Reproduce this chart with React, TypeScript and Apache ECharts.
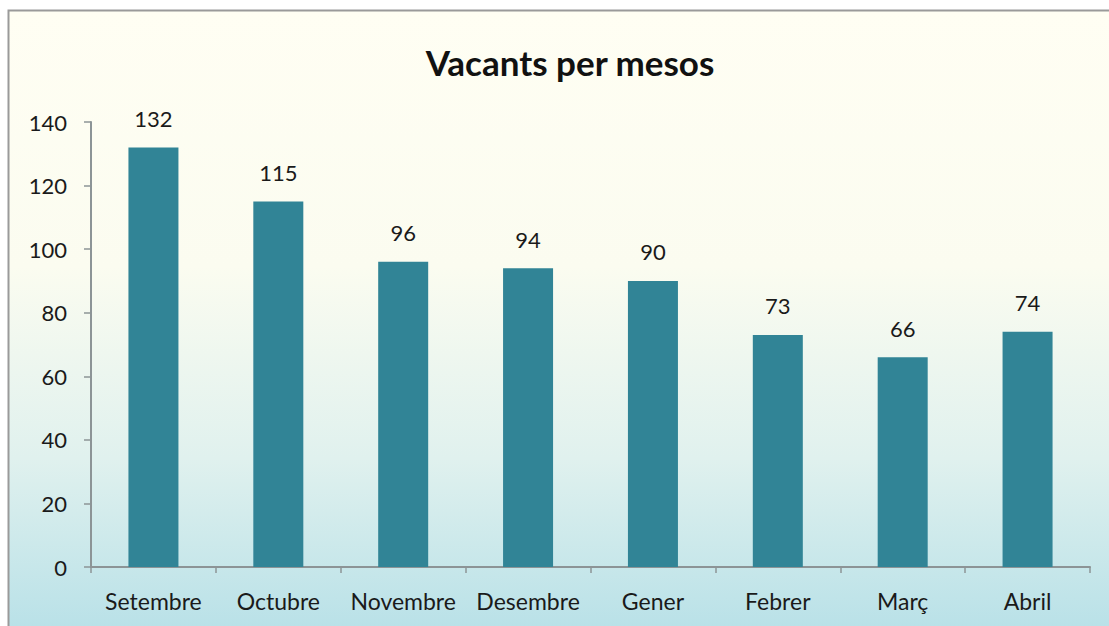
import React, { useEffect, useRef } from "react";
import * as echarts from "echarts";

const categories = ["Setembre", "Octubre", "Novembre", "Desembre", "Gener", "Febrer", "Març", "Abril"];
const values = [132, 115, 96, 94, 90, 73, 66, 74];
const yTicks = { min: 0, max: 140, interval: 20 };
const titleText = "Vacants per mesos";

export default function App() {
  const ref = useRef<HTMLDivElement>(null);
  useEffect(() => {
    const chart = echarts.init(ref.current!, null, { renderer: "svg" });
    const font = "Lato, 'Open Sans', sans-serif";
    chart.setOption({
      animation: false,
      backgroundColor: "#ffffff",
      graphic: [
        {
          type: "rect",
          z: -10,
          silent: true,
          shape: { x: 8.5, y: 10.5, width: 1130, height: 640 },
          style: {
            fill: new echarts.graphic.LinearGradient(0, 0, 0, 1, [
              { offset: 0, color: "#fffef3" },
              { offset: 0.4, color: "#fbfcf0" },
              { offset: 0.7, color: "#e0f1ee" },
              { offset: 1, color: "#b4dfe7" },
            ]),
            stroke: "#9a9a9a",
            lineWidth: 2,
          },
        },
      ],
      title: {
        text: titleText,
        left: 565,
        textAlign: "center",
        top: 39,
        textStyle: { fontFamily: font, fontSize: 35, fontWeight: "bold", color: "#111" },
      },
      grid: { left: 91, right: 19, top: 122, bottom: 59 },
      xAxis: {
        type: "category",
        data: categories,
        axisLine: { lineStyle: { color: "#8c9496", width: 2 } },
        axisTick: { show: true, length: 6, lineStyle: { color: "#8c9496", width: 1.5 } },
        axisLabel: { fontFamily: font, fontSize: 23, color: "#1a1a1a", margin: 22, interval: 0 },
      },
      yAxis: {
        type: "value",
        min: yTicks.min,
        max: yTicks.max,
        interval: yTicks.interval,
        axisLine: { show: true, lineStyle: { color: "#8c9496", width: 2 } },
        axisTick: { show: true, length: 7, lineStyle: { color: "#8c9496", width: 1.5 } },
        splitLine: { show: false },
        axisLabel: { fontFamily: font, fontSize: 22, color: "#1a1a1a", margin: 24 },
      },
      series: [
        {
          type: "bar",
          data: values,
          barWidth: 50,
          itemStyle: { color: "#318496" },
          label: {
            show: true,
            position: "top",
            distance: 18,
            fontFamily: font,
            fontSize: 22,
            color: "#1a1a1a",
          },
        },
      ],
    });
    return () => chart.dispose();
  }, []);
  return (
    <div
      ref={ref}
      style={{ position: "absolute", left: 0, top: 0, width: 1109, height: 626 }}
    />
  );
}
